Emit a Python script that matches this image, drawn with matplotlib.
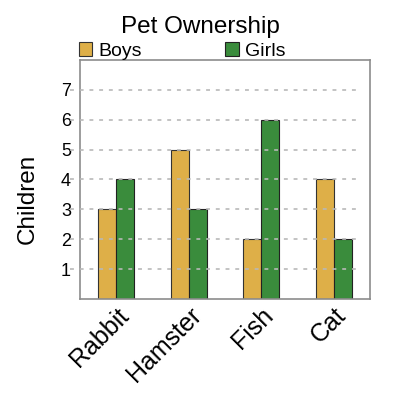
import matplotlib
matplotlib.use('Agg')
import matplotlib.pyplot as plt
import matplotlib.transforms as mtransforms
import numpy as np

pets = ['Rabbit', 'Hamster', 'Fish', 'Cat']
boys = [3, 5, 2, 4]
girls = [4, 3, 6, 2]
y_ticks = [1, 2, 3, 4, 5, 6, 7]

plt.rcParams['font.family'] = ['Liberation Sans', 'DejaVu Sans']

fig = plt.figure(figsize=(4, 4), dpi=100)
ax = fig.add_axes([0.2, 0.2525, 0.725, 0.5975])

x = np.arange(len(pets))
w = 0.25
b1 = ax.bar(x - w / 2, boys, w, color='#DEAF48', edgecolor='#333333', linewidth=0.8, label='Boys', zorder=2)
b2 = ax.bar(x + w / 2, girls, w, color='#3A8C3C', edgecolor='#222222', linewidth=0.8, label='Girls', zorder=2)

ax.set_xlim(-0.5, len(pets) - 0.5)
ax.set_ylim(0, 8)

# dashed grid lines that stick out past the left spine, drawn on top of bars
trans = mtransforms.blended_transform_factory(ax.transAxes, ax.transData)
for t in y_ticks:
    ax.plot([-0.034, 0.966], [t, t], transform=trans, color='#b8b8b8', alpha=0.85,
            linewidth=1.4, dashes=(2.0, 3.0), clip_on=False, zorder=3)

ax.set_yticks(y_ticks)
ax.set_yticklabels([str(t) for t in y_ticks], fontsize=13)
ax.tick_params(axis='y', length=0, pad=6.5)
ax.set_xticks(x)
ax.set_xticklabels(pets, rotation=45, ha='right', rotation_mode='anchor', fontsize=18)
ax.tick_params(axis='x', length=0, pad=3)

for s in ax.spines.values():
    s.set_color('#8c8c8c')
    s.set_linewidth(1.2)

ax.set_ylabel('Children', fontsize=17.5)
ax.yaxis.set_label_coords(-0.142, 0.42)
fig.text(0.5, 0.9325, 'Pet Ownership', ha='center', va='center', fontsize=17.5)

ax.legend(handles=[b1, b2], loc='lower left', bbox_to_anchor=(-0.004, 1.0), ncol=2,
          frameon=False, fontsize=14, handlelength=0.7, handleheight=0.7,
          handletextpad=0.3, columnspacing=4.3, borderaxespad=0, borderpad=0)

fig.savefig('out.png', dpi=100)
